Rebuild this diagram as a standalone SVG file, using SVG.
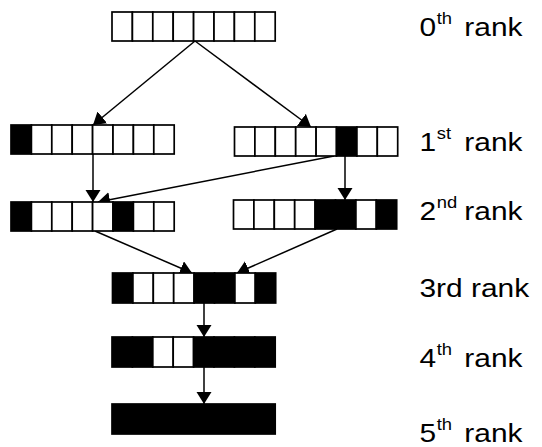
<svg xmlns="http://www.w3.org/2000/svg" width="542" height="447" viewBox="0 0 542 447">
  <style>
    .c { fill: #fff; stroke: #000; stroke-width: 1.7; }
    .b { fill: #000; stroke: #000; stroke-width: 1.7; }
    .edge { fill: none; stroke: #000; stroke-width: 1.5; marker-end: url(#arrow); }
    .lbl { font-family: "Liberation Sans", Arial, sans-serif; font-size: 26px; fill: #000; }
    .sup { font-size: 16px; }
  </style>
  <defs>
    <marker id="arrow" markerUnits="userSpaceOnUse" markerWidth="13" markerHeight="16" refX="12" refY="7.5" orient="auto">
      <path d="M0,0 L12,7.5 L0,15 z" fill="#000"/>
    </marker>
  </defs>

  <rect width="542" height="447" fill="#fff"/>

  <!-- connectors -->
  <g id="connectors">
    <path class="edge" d="M195,41 L93,125"/>
    <path class="edge" d="M195,41 L311,127"/>
    <path class="edge" d="M93,154 L93,202"/>
    <path class="edge" d="M334,156 L98,202"/>
    <path class="edge" d="M345,156 L345,200"/>
    <path class="edge" d="M95,231 L192,273"/>
    <path class="edge" d="M337,229 L237,273"/>
    <path class="edge" d="M204,303 L204,337"/>
    <path class="edge" d="M204,367 L204,404"/>
  </g>

  <!-- rank 0 -->
  <g id="r0" transform="translate(112,12)">
    <rect class="c" x="0" y="0" width="20.4" height="29"/>
    <rect class="c" x="20.4" y="0" width="20.4" height="29"/>
    <rect class="c" x="40.8" y="0" width="20.4" height="29"/>
    <rect class="c" x="61.2" y="0" width="20.4" height="29"/>
    <rect class="c" x="81.6" y="0" width="20.4" height="29"/>
    <rect class="c" x="102" y="0" width="20.4" height="29"/>
    <rect class="c" x="122.4" y="0" width="20.4" height="29"/>
    <rect class="c" x="142.8" y="0" width="20.4" height="29"/>
  </g>

  <!-- rank 1, left -->
  <g id="r1a" transform="translate(11,125)">
    <rect class="b" x="0" y="0" width="20.4" height="29"/>
    <rect class="c" x="20.4" y="0" width="20.4" height="29"/>
    <rect class="c" x="40.8" y="0" width="20.4" height="29"/>
    <rect class="c" x="61.2" y="0" width="20.4" height="29"/>
    <rect class="c" x="81.6" y="0" width="20.4" height="29"/>
    <rect class="c" x="102" y="0" width="20.4" height="29"/>
    <rect class="c" x="122.4" y="0" width="20.4" height="29"/>
    <rect class="c" x="142.8" y="0" width="20.4" height="29"/>
  </g>

  <!-- rank 1, right -->
  <g id="r1b" transform="translate(234.5,127)">
    <rect class="c" x="0" y="0" width="20.4" height="29"/>
    <rect class="c" x="20.4" y="0" width="20.4" height="29"/>
    <rect class="c" x="40.8" y="0" width="20.4" height="29"/>
    <rect class="c" x="61.2" y="0" width="20.4" height="29"/>
    <rect class="c" x="81.6" y="0" width="20.4" height="29"/>
    <rect class="b" x="102" y="0" width="20.4" height="29"/>
    <rect class="c" x="122.4" y="0" width="20.4" height="29"/>
    <rect class="c" x="142.8" y="0" width="20.4" height="29"/>
  </g>

  <!-- rank 2, left -->
  <g id="r2a" transform="translate(11,202)">
    <rect class="b" x="0" y="0" width="20.4" height="29"/>
    <rect class="c" x="20.4" y="0" width="20.4" height="29"/>
    <rect class="c" x="40.8" y="0" width="20.4" height="29"/>
    <rect class="c" x="61.2" y="0" width="20.4" height="29"/>
    <rect class="c" x="81.6" y="0" width="20.4" height="29"/>
    <rect class="b" x="102" y="0" width="20.4" height="29"/>
    <rect class="c" x="122.4" y="0" width="20.4" height="29"/>
    <rect class="c" x="142.8" y="0" width="20.4" height="29"/>
  </g>

  <!-- rank 2, right -->
  <g id="r2b" transform="translate(233.5,200)">
    <rect class="c" x="0" y="0" width="20.4" height="29"/>
    <rect class="c" x="20.4" y="0" width="20.4" height="29"/>
    <rect class="c" x="40.8" y="0" width="20.4" height="29"/>
    <rect class="c" x="61.2" y="0" width="20.4" height="29"/>
    <rect class="b" x="81.6" y="0" width="20.4" height="29"/>
    <rect class="b" x="102" y="0" width="20.4" height="29"/>
    <rect class="c" x="122.4" y="0" width="20.4" height="29"/>
    <rect class="b" x="142.8" y="0" width="20.4" height="29"/>
  </g>

  <!-- rank 3 -->
  <g id="r3" transform="translate(112.5,273)">
    <rect class="b" x="0" y="0" width="20.4" height="30"/>
    <rect class="c" x="20.4" y="0" width="20.4" height="30"/>
    <rect class="c" x="40.8" y="0" width="20.4" height="30"/>
    <rect class="c" x="61.2" y="0" width="20.4" height="30"/>
    <rect class="b" x="81.6" y="0" width="20.4" height="30"/>
    <rect class="b" x="102" y="0" width="20.4" height="30"/>
    <rect class="c" x="122.4" y="0" width="20.4" height="30"/>
    <rect class="b" x="142.8" y="0" width="20.4" height="30"/>
  </g>

  <!-- rank 4 -->
  <g id="r4" transform="translate(112,337)">
    <rect class="b" x="0" y="0" width="20.4" height="30"/>
    <rect class="b" x="20.4" y="0" width="20.4" height="30"/>
    <rect class="c" x="40.8" y="0" width="20.4" height="30"/>
    <rect class="c" x="61.2" y="0" width="20.4" height="30"/>
    <rect class="b" x="81.6" y="0" width="20.4" height="30"/>
    <rect class="b" x="102" y="0" width="20.4" height="30"/>
    <rect class="b" x="122.4" y="0" width="20.4" height="30"/>
    <rect class="b" x="142.8" y="0" width="20.4" height="30"/>
  </g>

  <!-- rank 5 -->
  <g id="r5" transform="translate(112,404)">
    <rect class="b" x="0" y="0" width="163.2" height="30"/>
  </g>

  <!-- rank labels -->
  <g id="labels" class="lbl">
    <text transform="translate(419.5,36) scale(1.15,1)">0<tspan class="sup" x="15" y="-12">th</tspan><tspan x="39" y="0">rank</tspan></text>
    <text transform="translate(419.5,151) scale(1.15,1)">1<tspan class="sup" x="15" y="-12">st</tspan><tspan x="39" y="0">rank</tspan></text>
    <text transform="translate(419.5,220) scale(1.15,1)">2<tspan class="sup" x="15" y="-12">nd</tspan><tspan x="39" y="0">rank</tspan></text>
    <text transform="translate(419.5,297) scale(1.15,1)">3rd rank</text>
    <text transform="translate(419.5,367) scale(1.15,1)">4<tspan class="sup" x="15" y="-12">th</tspan><tspan x="39" y="0">rank</tspan></text>
    <text transform="translate(419.5,442) scale(1.15,1)">5<tspan class="sup" x="15" y="-12">th</tspan><tspan x="39" y="0">rank</tspan></text>
  </g>
</svg>
